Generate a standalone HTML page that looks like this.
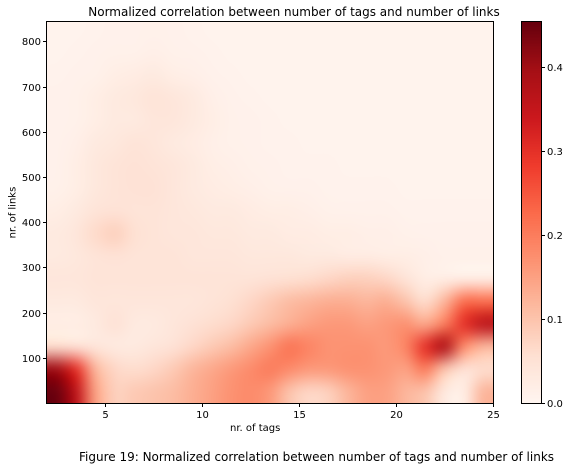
<!DOCTYPE html>
<html><head><meta charset="utf-8">
<style>
html,body{margin:0;padding:0;background:#fff;}
body{width:570px;height:471px;position:relative;overflow:hidden;font-family:"DejaVu Sans","Liberation Sans",sans-serif;color:#000;}
.t{position:absolute;white-space:nowrap;}
canvas{position:absolute;}
</style></head>
<body>
<div class="t" style="left:0;width:570px;top:5px;text-align:center;font-size:12px;padding-left:18px;box-sizing:border-box;">Normalized correlation between number of tags and number of links</div>
<canvas id="hm" width="446" height="381" style="left:47px;top:22px;"></canvas>
<canvas id="cb" width="19" height="381" style="left:522px;top:22px;"></canvas>
<svg id="ax" width="570" height="471" style="position:absolute;left:0;top:0;"></svg>
<div class="t" style="left:230px;top:423px;font-size:10px;">nr. of tags</div>
<div class="t" style="left:-17px;top:207px;font-size:10px;transform:rotate(-90deg);width:60px;text-align:center;">nr. of links</div>
<div class="t" style="left:79px;top:450px;font-size:12px;">Figure 19: Normalized correlation between number of tags and number of links</div>
<script>
const xMin = 2, xMax = 25, yMin = 0, yMax = 843, binH = 50;
const vMax = 0.454;
const xTicks = [5, 10, 15, 20, 25];
const yTicks = [100, 200, 300, 400, 500, 600, 700, 800];
const cbTicks = [0.0, 0.1, 0.2, 0.3, 0.4];
// rows: index 0 = links 0-50, upwards
const values = [
 [0.45,0.36,0.15,0.08,0.09,0.10,0.11,0.13,0.15,0.17,0.18,0.16,0.10,0.07,0.08,0.12,0.15,0.15,0.12,0.10,0.03,0.02,0.12],
 [0.40,0.30,0.12,0.07,0.06,0.07,0.09,0.12,0.14,0.16,0.18,0.20,0.18,0.16,0.16,0.17,0.17,0.16,0.15,0.20,0.10,0.05,0.06],
 [0.06,0.05,0.04,0.03,0.03,0.04,0.05,0.07,0.09,0.11,0.14,0.17,0.21,0.19,0.17,0.17,0.17,0.16,0.19,0.30,0.38,0.18,0.12],
 [0.02,0.02,0.03,0.05,0.03,0.03,0.04,0.05,0.06,0.07,0.09,0.11,0.13,0.15,0.16,0.16,0.15,0.16,0.17,0.14,0.20,0.30,0.36],
 [0.03,0.03,0.04,0.04,0.04,0.04,0.04,0.04,0.045,0.055,0.07,0.09,0.11,0.12,0.13,0.13,0.12,0.13,0.10,0.06,0.12,0.22,0.22],
 [0.04,0.04,0.045,0.045,0.045,0.045,0.045,0.045,0.045,0.045,0.045,0.05,0.055,0.06,0.07,0.08,0.08,0.07,0.045,0.02,0.02,0.02,0.02],
 [0.03,0.035,0.045,0.05,0.045,0.045,0.045,0.04,0.04,0.04,0.035,0.035,0.035,0.03,0.03,0.025,0.025,0.02,0.02,0.015,0.012,0.012,0.012],
 [0.03,0.04,0.065,0.08,0.055,0.045,0.04,0.04,0.035,0.035,0.03,0.03,0.025,0.025,0.02,0.02,0.015,0.015,0.012,0.01,0.01,0.01,0.01],
 [0.02,0.03,0.045,0.05,0.045,0.045,0.04,0.035,0.03,0.03,0.025,0.02,0.02,0.015,0.012,0.01,0.01,0.01,0.008,0.008,0.008,0.008,0.008],
 [0.012,0.02,0.035,0.045,0.05,0.05,0.04,0.03,0.025,0.02,0.015,0.012,0.01,0.01,0.008,0.008,0.007,0.007,0.006,0.006,0.006,0.006,0.006],
 [0.01,0.02,0.035,0.045,0.05,0.045,0.04,0.03,0.02,0.015,0.012,0.01,0.008,0.007,0.007,0.006,0.006,0.006,0.006,0.006,0.006,0.006,0.006],
 [0.01,0.015,0.03,0.035,0.045,0.04,0.03,0.025,0.015,0.012,0.01,0.008,0.007,0.006,0.006,0.006,0.006,0.006,0.006,0.006,0.006,0.006,0.006],
 [0.01,0.012,0.02,0.03,0.03,0.04,0.04,0.03,0.02,0.012,0.01,0.007,0.006,0.006,0.006,0.006,0.006,0.006,0.006,0.006,0.006,0.006,0.006],
 [0.01,0.012,0.02,0.03,0.035,0.045,0.04,0.03,0.015,0.01,0.008,0.006,0.006,0.006,0.006,0.006,0.006,0.006,0.006,0.006,0.006,0.006,0.006],
 [0.008,0.01,0.012,0.02,0.025,0.03,0.02,0.015,0.01,0.008,0.006,0.006,0.006,0.006,0.006,0.006,0.006,0.006,0.006,0.006,0.006,0.006,0.006],
 [0.006,0.008,0.01,0.012,0.012,0.015,0.012,0.01,0.008,0.006,0.006,0.006,0.006,0.006,0.006,0.006,0.006,0.006,0.006,0.006,0.006,0.006,0.006],
 [0.006,0.006,0.008,0.01,0.01,0.012,0.01,0.008,0.006,0.006,0.006,0.006,0.006,0.006,0.006,0.006,0.006,0.006,0.006,0.006,0.006,0.006,0.006]
];

const PL = 47, PT = 22, PW = 446, PH = 381;
const sx = v => PL + (v - xMin) / (xMax - xMin) * PW;
const sy = v => PT + PH - (v - yMin) / (yMax - yMin) * PH;

const stops = ["#fff5f0","#fee0d2","#fcbba1","#fc9272","#fb6a4a","#ef3b2c","#cb181d","#a50f15","#67000d"].map(h=>[parseInt(h.slice(1,3),16),parseInt(h.slice(3,5),16),parseInt(h.slice(5,7),16)]);
function cmap(v){
  let t = Math.max(0, Math.min(1, v / vMax)) * (stops.length - 1);
  let i = Math.min(stops.length - 2, Math.floor(t)), f = t - i;
  return stops[i].map((c,k)=>Math.round(c + (stops[i+1][k]-c)*f));
}

const nR = values.length, nC = values[0].length;
const small = document.createElement('canvas');
small.width = nC; small.height = nR;
const sctx = small.getContext('2d');
const img = sctx.createImageData(nC, nR);
for (let r = 0; r < nR; r++) for (let c = 0; c < nC; c++) {
  const col = cmap(values[r][c]);
  const p = ((nR - 1 - r) * nC + c) * 4;
  img.data[p]=col[0]; img.data[p+1]=col[1]; img.data[p+2]=col[2]; img.data[p+3]=255;
}
sctx.putImageData(img, 0, 0);
const hm = document.getElementById('hm');
const hctx = hm.getContext('2d');
hctx.imageSmoothingEnabled = true;
hctx.imageSmoothingQuality = 'high';
const topY = nR * binH;
const dx = sx(xMin) - PL, dw = sx(xMax) - sx(xMin);
const dy = sy(topY) - PT, dh = sy(0) - sy(topY);
hctx.drawImage(small, 0, 0, nC, nR, dx, dy, dw, dh);

const cb = document.getElementById('cb').getContext('2d');
for (let y = 0; y < PH; y++) {
  const col = cmap((PH - 1 - y) / (PH - 1) * vMax);
  cb.fillStyle = `rgb(${col})`;
  cb.fillRect(0, y, 19, 1);
}

const svg = document.getElementById('ax');
const NS = 'http://www.w3.org/2000/svg';
function mk(tag, attrs){ const e = document.createElementNS(NS, tag); for (const k in attrs) e.setAttribute(k, attrs[k]); svg.appendChild(e); return e; }
let fr = mk('rect', {x:PL-0.5, y:PT-0.5, width:PW+1, height:PH+1, fill:'none', stroke:'#000', 'stroke-width':1});


let cf = mk('rect', {x:521.5, y:PT-0.5, width:20, height:PH+1, fill:'none', stroke:'#000', 'stroke-width':1});


xTicks.forEach(v => {
  const x = Math.round(sx(v)) + 0.5;
  mk('line', {x1:x, x2:x, y1:PT+PH+0.5, y2:PT+PH+4, stroke:'#000'});
  const t = mk('text', {x:x, y:PT+PH+15, 'font-size':10, 'text-anchor':'middle', 'font-family':'DejaVu Sans, Liberation Sans, sans-serif'});
  t.textContent = v;
  
  
});
yTicks.forEach(v => {
  const y = Math.round(sy(v)) + 0.5;
  mk('line', {x1:PL-4, x2:PL-0.5, y1:y, y2:y, stroke:'#000'});
  const t = mk('text', {x:PL-6, y:y+3.5, 'font-size':10, 'text-anchor':'end', 'font-family':'DejaVu Sans, Liberation Sans, sans-serif'});
  t.textContent = v;
  
  
});
cbTicks.forEach(v => {
  const y = Math.round(PT + PH - v / vMax * PH) + 0.5;
  mk('line', {x1:541.5, x2:545, y1:y, y2:y, stroke:'#000'});
  const t = mk('text', {x:547, y:y+3.5, 'font-size':10, 'font-family':'DejaVu Sans, Liberation Sans, sans-serif'});
  t.textContent = v.toFixed(1);
  
  
});
</script>
</body></html>
